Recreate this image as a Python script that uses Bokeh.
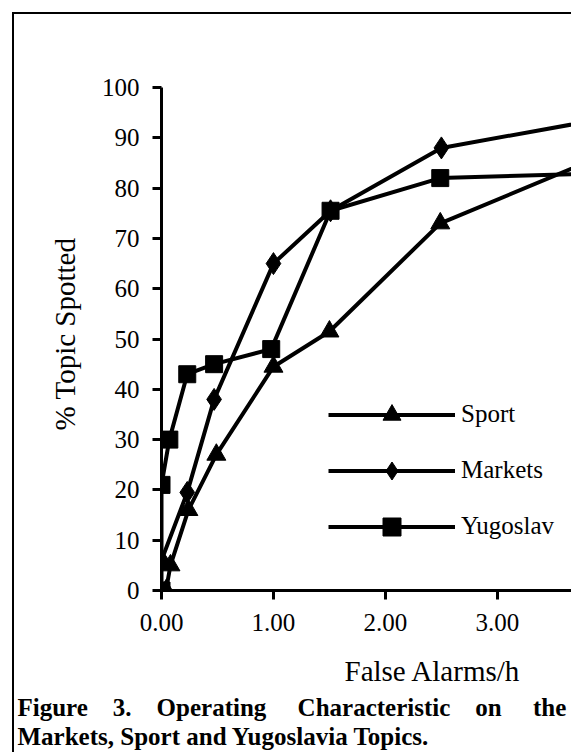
from bokeh.plotting import figure
from bokeh.models import (Legend, LegendItem, Range1d, Title,
                          SingleIntervalTicker, PrintfTickFormatter)
from bokeh.embed import file_html
from bokeh.resources import INLINE

# Operating characteristic: % topic spotted vs. false alarms per hour
sport_x = [0.04, 0.08, 0.24, 0.49, 1.00, 1.50, 2.49, 4.00]
sport_y = [0.0, 5.0, 16.0, 27.0, 44.5, 51.5, 73.0, 87.0]

markets_x = [0.00, 0.23, 0.47, 1.00, 1.51, 2.50, 4.00]
markets_y = [6.0, 19.5, 38.0, 65.0, 75.5, 88.0, 94.0]

yugoslav_x = [0.00, 0.00, 0.07, 0.23, 0.47, 0.98, 1.51, 2.49, 4.00]
yugoslav_y = [0.0, 21.0, 30.0, 43.0, 45.0, 48.0, 75.5, 82.0, 83.0]

series_names = ["Sport", "Markets", "Yugoslav"]

FONT = "Liberation Serif"

p = figure(width=559, height=740, output_backend="svg", toolbar_location=None,
           x_range=Range1d(0, 3.68), y_range=Range1d(0, 102),
           min_border_left=147, min_border_right=0,
           min_border_top=63, min_border_bottom=164)
p.grid.visible = False
p.outline_line_color = None
p.background_fill_color = "white"
p.border_fill_color = "white"
# page frame rule on the left and top
p.styles = {"border-left": "2px solid black", "border-top": "2px solid black",
            "margin-left": "12px", "margin-top": "12px"}

for ax in (p.xaxis[0], p.yaxis[0]):
    ax.axis_line_width = 3
    ax.axis_line_color = "black"
    ax.major_tick_line_width = 3
    ax.major_tick_line_color = "black"
    ax.major_tick_out = 9
    ax.major_tick_in = 0
    ax.minor_tick_out = 0
    ax.minor_tick_in = 0
    ax.major_label_text_font = FONT
    ax.major_label_text_font_size = "25px"
    ax.major_label_text_color = "black"

p.xaxis.bounds = (0, 3.68)
p.yaxis.bounds = (0, 100)
p.xaxis.ticker = SingleIntervalTicker(interval=1, num_minor_ticks=0)
p.yaxis.ticker = SingleIntervalTicker(interval=10, num_minor_ticks=0)
p.xaxis.formatter = PrintfTickFormatter(format="%.2f")
p.xaxis.major_label_standoff = 14
p.yaxis.major_label_standoff = 13
# blank label keeps extra room between the tick labels and the x title
p.xaxis.axis_label = " "
p.xaxis.axis_label_text_font_size = "10px"
p.xaxis.axis_label_standoff = 0

p.yaxis.axis_label = "% Topic Spotted"
p.yaxis.axis_label_text_font = FONT
p.yaxis.axis_label_text_font_size = "29px"
p.yaxis.axis_label_text_font_style = "normal"
p.yaxis.axis_label_text_color = "black"
p.yaxis.axis_label_standoff = 18

# series: lines with filled markers
r_sl = p.line(sport_x, sport_y, line_width=4, line_color="black")
r_sm = p.scatter(sport_x, sport_y, marker="triangle", size=19, color="black")
r_ml = p.line(markets_x, markets_y, line_width=4, line_color="black")
r_mm = p.scatter(markets_x, markets_y, marker="diamond", size=22, color="black")
r_yl = p.line(yugoslav_x, yugoslav_y, line_width=4, line_color="black")
r_ym = p.scatter(yugoslav_x, yugoslav_y, marker="square", size=17, color="black")

legend = Legend(
    items=[LegendItem(label=series_names[0], renderers=[r_sl, r_sm]),
           LegendItem(label=series_names[1], renderers=[r_ml, r_mm]),
           LegendItem(label=series_names[2], renderers=[r_yl, r_ym])],
    location=(167, 41.5), glyph_width=127, glyph_height=45, spacing=11,
    padding=0, margin=0, label_standoff=6,
    border_line_alpha=0, background_fill_alpha=0,
    label_text_font=FONT, label_text_font_size="25px", label_text_color="black")
p.add_layout(legend)

# x axis title
p.add_layout(Title(text="False Alarms/h", text_font=FONT, text_font_size="29px",
                   text_font_style="normal", text_color="black",
                   align="left", offset=183, standoff=10), "below")

# figure caption, first line spread across the full width
gaps = [4, 4, 5, 4, 5]
words = ["Figure", "3.", "Operating", "Characteristic", "on", "the"]
line1 = words[0]
for g, w in zip(gaps, words[1:]):
    line1 += " " + "\u00a0" * (g - 1) + w
line2 = "Markets, Sport and Yugoslavia Topics."
for txt in (line1, line2):
    p.add_layout(Title(text=txt, text_font=FONT, text_font_size="25px",
                       text_font_style="bold", text_color="black",
                       align="left", offset=-144, standoff=0), "below")

open("out.html", "w").write(file_html(p, INLINE))
